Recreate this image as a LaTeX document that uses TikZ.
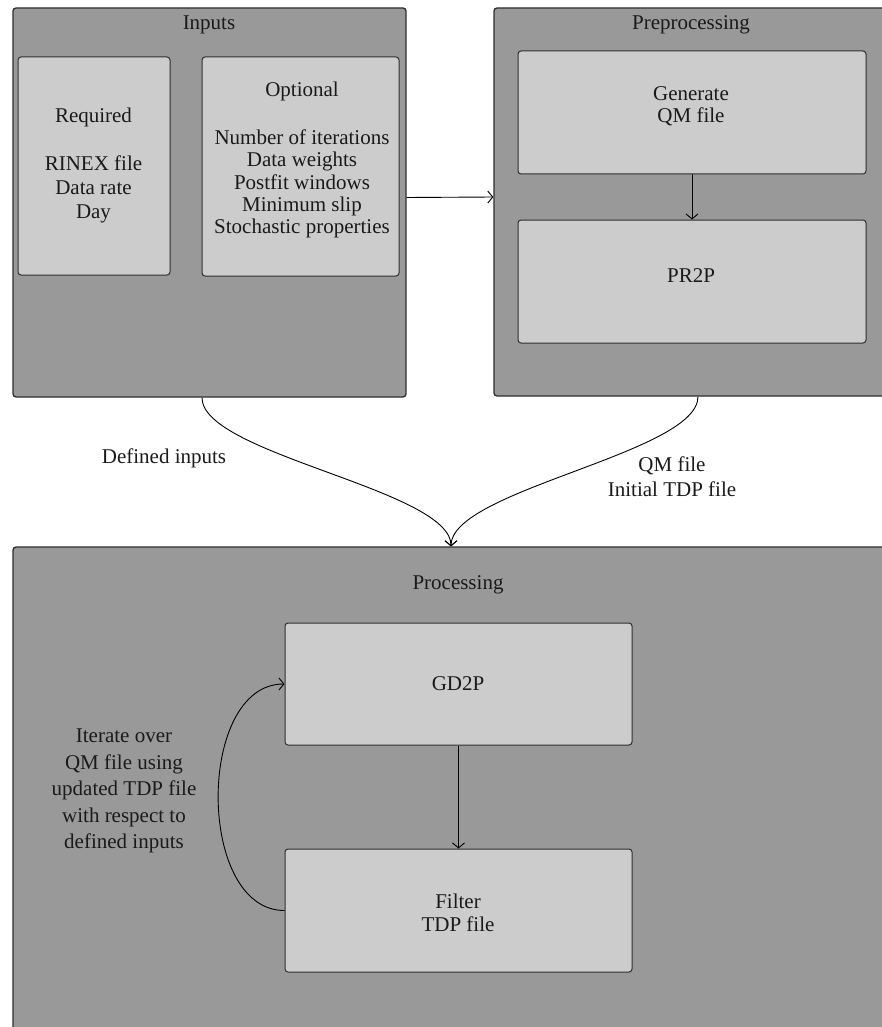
\documentclass[tikz,border=0pt]{standalone}
\usepackage{fontspec}
\setmainfont{Liberation Serif}
\usepackage{xcolor}
\usepackage{tikz}
\usetikzlibrary{arrows.meta,positioning}
\definecolor{stagefill}{HTML}{999999}
\definecolor{taskfill}{HTML}{CCCCCC}
\definecolor{rim}{HTML}{2E2E2E}
\definecolor{ink}{HTML}{1A1A1A}

\begin{document}
\begin{tikzpicture}[x=1pt,y=-1pt,
  stage/.style={draw=rim,fill=stagefill,line width=1.3pt,rounded corners=3pt,inner sep=0pt},
  task/.style={draw=rim,fill=taskfill,line width=1pt,rounded corners=3pt,inner sep=0pt},
  txt/.style={text=ink,align=center,inner sep=0pt,font=\fontsize{21}{23}\selectfont},
  flow/.style={-{Straight Barb[length=5pt,width=12pt]},line width=0.9pt,black}]
  \useasboundingbox (0,0) rectangle (881,1027);
  % outer stages
  \node[stage,minimum width=393pt,minimum height=389pt] (inputs) at (209.5,202.5) {};
  \node[stage,minimum width=401pt,minimum height=388pt] (prep) at (694.5,202) {};
  \node[stage,minimum width=882pt,minimum height=493pt] (proc) at (454,793.5) {};
  \node[txt] (inputsttl) at (209,24.5) {Inputs};
  \node[txt] (prepttl) at (691,24.5) {Preprocessing};
  \node[txt] (procttl) at (458,585) {Processing};
  % inputs
  \node[task,minimum width=152pt,minimum height=218pt] (req) at (94,166) {};
  \node[task,minimum width=197pt,minimum height=219pt] (opt) at (300.5,166.5) {};
  \node[txt,font=\fontsize{21}{24}\selectfont] (reqtxt) at (93.5,165) {Required\\[24pt]RINEX file\\Data rate\\Day};
  \node[txt,font=\fontsize{21}{22.3}\selectfont] (opttxt) at (302,160) {Optional\\[26pt]Number of iterations\\Data weights\\Postfit windows\\Minimum slip\\Stochastic properties};
  % preprocessing
  \node[task,minimum width=348pt,minimum height=123pt] (gen) at (692,112.5) {};
  \node[task,minimum width=348pt,minimum height=123pt] (pr2p) at (692,281.5) {};
  \node[txt,font=\fontsize{21}{22}\selectfont] (gentxt) at (691,106) {Generate\\QM file};
  \node[txt] (pr2ptxt) at (691,276) {PR2P};
  % processing
  \node[task,minimum width=347pt,minimum height=122pt] (gd2p) at (458.5,684) {};
  \node[task,minimum width=347pt,minimum height=123pt] (filter) at (458.5,910.5) {};
  \node[txt] (gd2ptxt) at (458,684) {GD2P};
  \node[txt] (filtertxt) at (458,913) {Filter\\TDP file};
  \node[txt,font=\fontsize{21}{26.6}\selectfont] (itertxt) at (124,791) {Iterate over\\QM file using\\updated TDP file\\with respect to\\defined inputs};
  % connectors
  \draw[flow] ([yshift=5pt]inputs.east) -- ([yshift=5pt]prep.west);
  \draw[flow] (gen.south) -- (pr2p.north);
  \draw[flow] (gd2p.south) -- (filter.north);
  \draw[flow] (filter.west) to[out=180,in=180] (gd2p.west);
  \coordinate (merge) at ([xshift=-3pt]proc.north);
  \draw[flow] ([xshift=-7.5pt]inputs.south) to[out=-90,in=90,looseness=0.5] (merge);
  \draw[flow] ([xshift=3.5pt]prep.south) to[out=-90,in=90,looseness=0.5] (merge);
  \node[txt] (deflbl) at (164,458) {Defined inputs};
  \node[txt,font=\fontsize{21}{25}\selectfont] (qmlbl) at (672,477) {QM file\\Initial TDP file};
\end{tikzpicture}
\end{document}
